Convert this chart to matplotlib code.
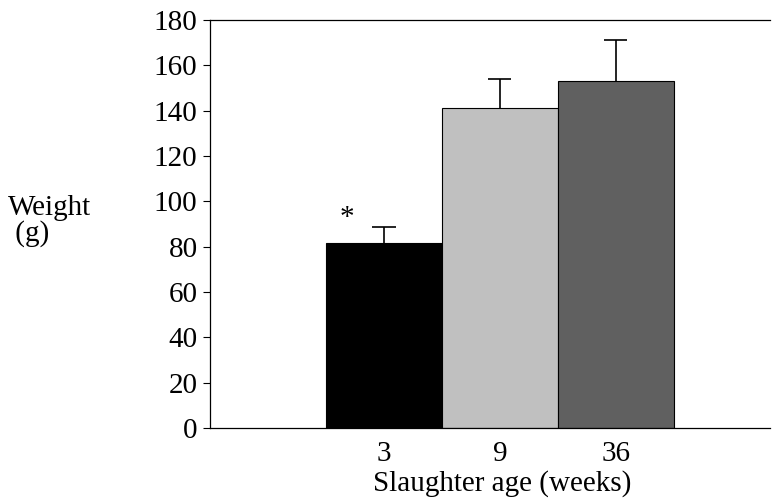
import matplotlib
matplotlib.use("Agg")
import matplotlib.pyplot as plt

ages = ["3", "9", "36"]
weights = [81.5, 141, 153]
errors_up = [7, 13, 18]
colors = ["#000000", "#c0c0c0", "#606060"]

plt.rcParams['font.family'] = ['Liberation Serif', 'DejaVu Serif']
FS = 21

fig = plt.figure(figsize=(7.8, 4.99), dpi=100)
ax = fig.add_axes([210 / 780, 1 - 428 / 499, 560 / 780, 408 / 499])

pos = list(range(len(ages)))
ax.bar(pos, weights, width=1.0, color=colors, edgecolor="black", linewidth=0.8)

# upper error bars only
tops = [w + e for w, e in zip(weights, errors_up)]
ax.vlines(pos, weights, tops, color="black", linewidth=1.2)
ax.hlines(tops, [p - 0.1 for p in pos], [p + 0.1 for p in pos], color="black", linewidth=1.2)

# significance mark above the 3-week bar
ax.text(-0.32, 87, "*", ha="center", va="bottom", fontsize=FS)

ax.set_xlim(-1.5, 3.33)
ax.set_ylim(0, 180)
ax.set_yticks(range(0, 181, 20))
ax.set_xticks(pos)
ax.set_xticklabels(ages)
ax.tick_params(axis="x", length=0, pad=9.5, labelsize=FS)
ax.tick_params(axis="y", direction="out", length=5, width=0.8, pad=4, labelsize=FS)

ax.spines["right"].set_visible(False)
for s in ["left", "top", "bottom"]:
    ax.spines[s].set_linewidth(0.9)

# axis titles placed in figure pixels, like the original
fig.text(502 / 780, 1 - 497 / 499, "Slaughter age (weeks)", fontsize=FS,
         ha="center", va="bottom")
fig.text(8 / 780, 1 - 221 / 499, "Weight\n (g)", fontsize=FS, ha="left", va="center",
         linespacing=1.0)

fig.savefig("out.png", dpi=100)
